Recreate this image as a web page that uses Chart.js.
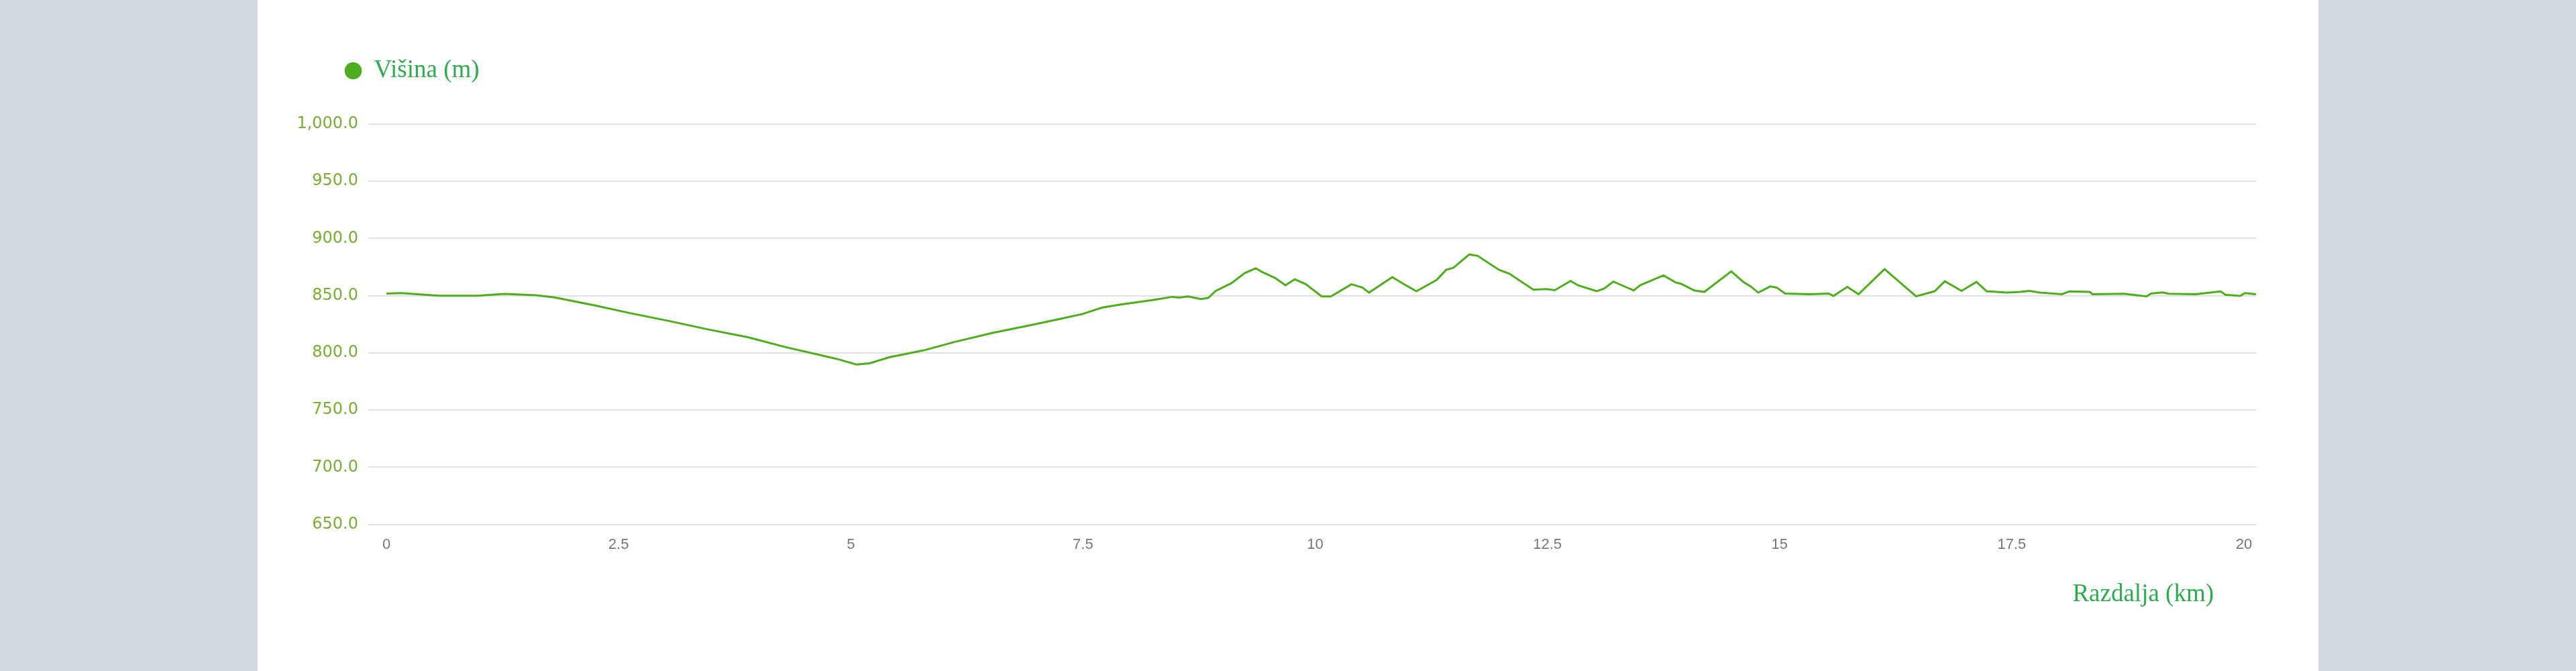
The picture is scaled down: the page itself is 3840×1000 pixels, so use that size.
<!DOCTYPE html>
<html>
<head>
<meta charset="utf-8">
<title>Višina</title>
<script src="https://cdn.jsdelivr.net/npm/chart.js@4.4.0/dist/chart.umd.min.js"></script>
<style>
  html, body { margin: 0; padding: 0; }
  body { background: #d1d9e1; width: 3840px; height: 1000px; overflow: hidden; position: relative; }
  .panel { position: absolute; left: 384px; top: 0; width: 3072px; height: 1000px; background: #fff; }
  .panel canvas { display: block; }
</style>
</head>
<body>
<div class="panel"><canvas id="elevation-chart" width="3072" height="1000"></canvas></div>
<script>
const seriesLabel = "Višina (m)";
const xTitle = "Razdalja (km)";

const distanceKm = [
  0, 0.16, 0.57, 0.98, 1.27, 1.61, 1.81, 2.23, 2.64, 3.06,
  3.47, 3.89, 4.3, 4.72, 4.87, 5.06, 5.2, 5.42, 5.78, 6.11,
  6.53, 6.94, 7.22, 7.49, 7.71, 7.91, 8.27, 8.46, 8.54, 8.63,
  8.77, 8.85, 8.93, 9.1, 9.24, 9.36, 9.43, 9.57, 9.68, 9.78,
  9.9, 10.07, 10.17, 10.39, 10.51, 10.58, 10.83, 10.95, 11.09, 11.31,
  11.41, 11.49, 11.66, 11.75, 11.98, 12.09, 12.35, 12.49, 12.58, 12.75,
  12.83, 13.03, 13.11, 13.21, 13.43, 13.5, 13.61, 13.75, 13.88, 13.94,
  14.08, 14.19, 14.48, 14.61, 14.69, 14.77, 14.9, 14.97, 15.06, 15.33,
  15.53, 15.58, 15.73, 15.85, 16.13, 16.29, 16.47, 16.67, 16.78, 16.96,
  17.12, 17.23, 17.45, 17.59, 17.69, 17.8, 18.04, 18.12, 18.34, 18.37,
  18.71, 18.95, 19.0, 19.12, 19.19, 19.48, 19.75, 19.8, 19.96, 20.01,
  20.13,
];

const elevationM = [
  851.9, 852.3, 850.0, 850.0, 851.6, 850.4, 848.5, 841.7, 834.5, 827.6,
  820.4, 813.7, 805.0, 797.2, 794.3, 789.9, 790.9, 796.3, 802.1, 809.4,
  817.5, 824.3, 829.1, 833.9, 839.7, 842.3, 846.5, 849.0, 848.4, 849.4,
  847.1, 848.1, 854.2, 861.0, 869.7, 873.9, 870.7, 865.5, 859.1, 864.3,
  860.0, 849.4, 849.4, 860.0, 857.1, 852.7, 866.2, 860.4, 853.9, 863.9,
  872.6, 874.5, 886.1, 884.8, 872.6, 869.3, 855.2, 855.8, 854.8, 862.9,
  859.1, 853.9, 856.2, 862.3, 854.6, 859.1, 862.9, 867.8, 861.6, 860.4,
  854.6, 853.3, 871.3, 862.0, 858.1, 852.7, 858.1, 857.1, 851.9, 851.3,
  851.9, 849.8, 857.7, 851.3, 873.2, 862.0, 849.4, 853.9, 862.6, 854.2,
  862.0, 853.9, 852.7, 853.3, 854.2, 852.7, 851.3, 853.7, 853.3, 851.3,
  851.7, 849.4, 851.9, 852.9, 851.7, 851.3, 853.7, 850.8, 849.8, 852.3,
  851.3,
];

const xTicks = [0, 2.5, 5, 7.5, 10, 12.5, 15, 17.5, 20];
const yTicks = [650, 700, 750, 800, 850, 900, 950, 1000];

const lineGreen = "#4ead1d";
const textGreen = "#2faa4f";

// extra room under the legend
const legendSpace = {
  id: "legendSpace",
  beforeInit(chart) {
    const fit = chart.legend.fit;
    chart.legend.fit = function () {
      fit.call(this);
      this.height = 178;
    };
  },
};

const axisTitle = {
  id: "axisTitle",
  afterDraw(chart) {
    const { ctx, chartArea } = chart;
    ctx.save();
    ctx.font = "37px 'Liberation Serif', serif";
    ctx.fillStyle = textGreen;
    ctx.textAlign = "right";
    ctx.textBaseline = "alphabetic";
    ctx.fillText(xTitle, chartArea.right - 63, chartArea.bottom + 114);
    ctx.restore();
  },
};

const canvasGraph = document.querySelector("#elevation-chart");

const config = {
  type: "line",
  data: {
    datasets: [
      {
        label: seriesLabel,
        data: distanceKm.map((d, i) => ({ x: d, y: elevationM[i] })),
        borderColor: lineGreen,
        backgroundColor: lineGreen,
        borderWidth: 3,
        pointRadius: 0,
        pointStyle: "circle",
        tension: 0,
        fill: false,
      },
    ],
  },
  options: {
    responsive: false,
    animation: false,
    layout: { padding: { left: 50, top: 7, right: 93, bottom: 158 } },
    plugins: {
      tooltip: { enabled: false },
      legend: {
        align: "start",
        labels: {
          usePointStyle: true,
          boxWidth: 25,
          boxHeight: 16,
          padding: 80,
          color: textGreen,
          font: { family: "'Liberation Serif', serif", size: 37 },
        },
      },
    },
    scales: {
      x: {
        type: "linear",
        min: 0,
        max: distanceKm[distanceKm.length - 1],
        afterBuildTicks: (axis) => {
          axis.ticks = xTicks.map((v) => ({ value: v }));
        },
        grid: { display: false, drawTicks: false },
        border: { display: false },
        ticks: {
          padding: 17,
          maxRotation: 0,
          autoSkip: false,
          color: "#777",
          font: { family: "'Liberation Sans', Arial, sans-serif", size: 22 },
          callback: (v) => String(v),
        },
      },
      y: {
        min: 650,
        max: 1000,
        afterBuildTicks: (axis) => {
          axis.ticks = yTicks.map((v) => ({ value: v }));
        },
        afterFit: (axis) => {
          axis.width = 142;
        },
        grid: { color: "#e2e2e2", lineWidth: 2, tickLength: 27 },
        border: { display: false },
        ticks: {
          padding: 15,
          color: "#7aad35",
          font: { family: "'DejaVu Sans', sans-serif", size: 24 },
          callback: (v) =>
            v.toLocaleString("en-US", { minimumFractionDigits: 1, maximumFractionDigits: 1 }),
        },
      },
    },
  },
  plugins: [legendSpace, axisTitle],
};

const elevationChart = new Chart(canvasGraph, config);
</script>
</body>
</html>
